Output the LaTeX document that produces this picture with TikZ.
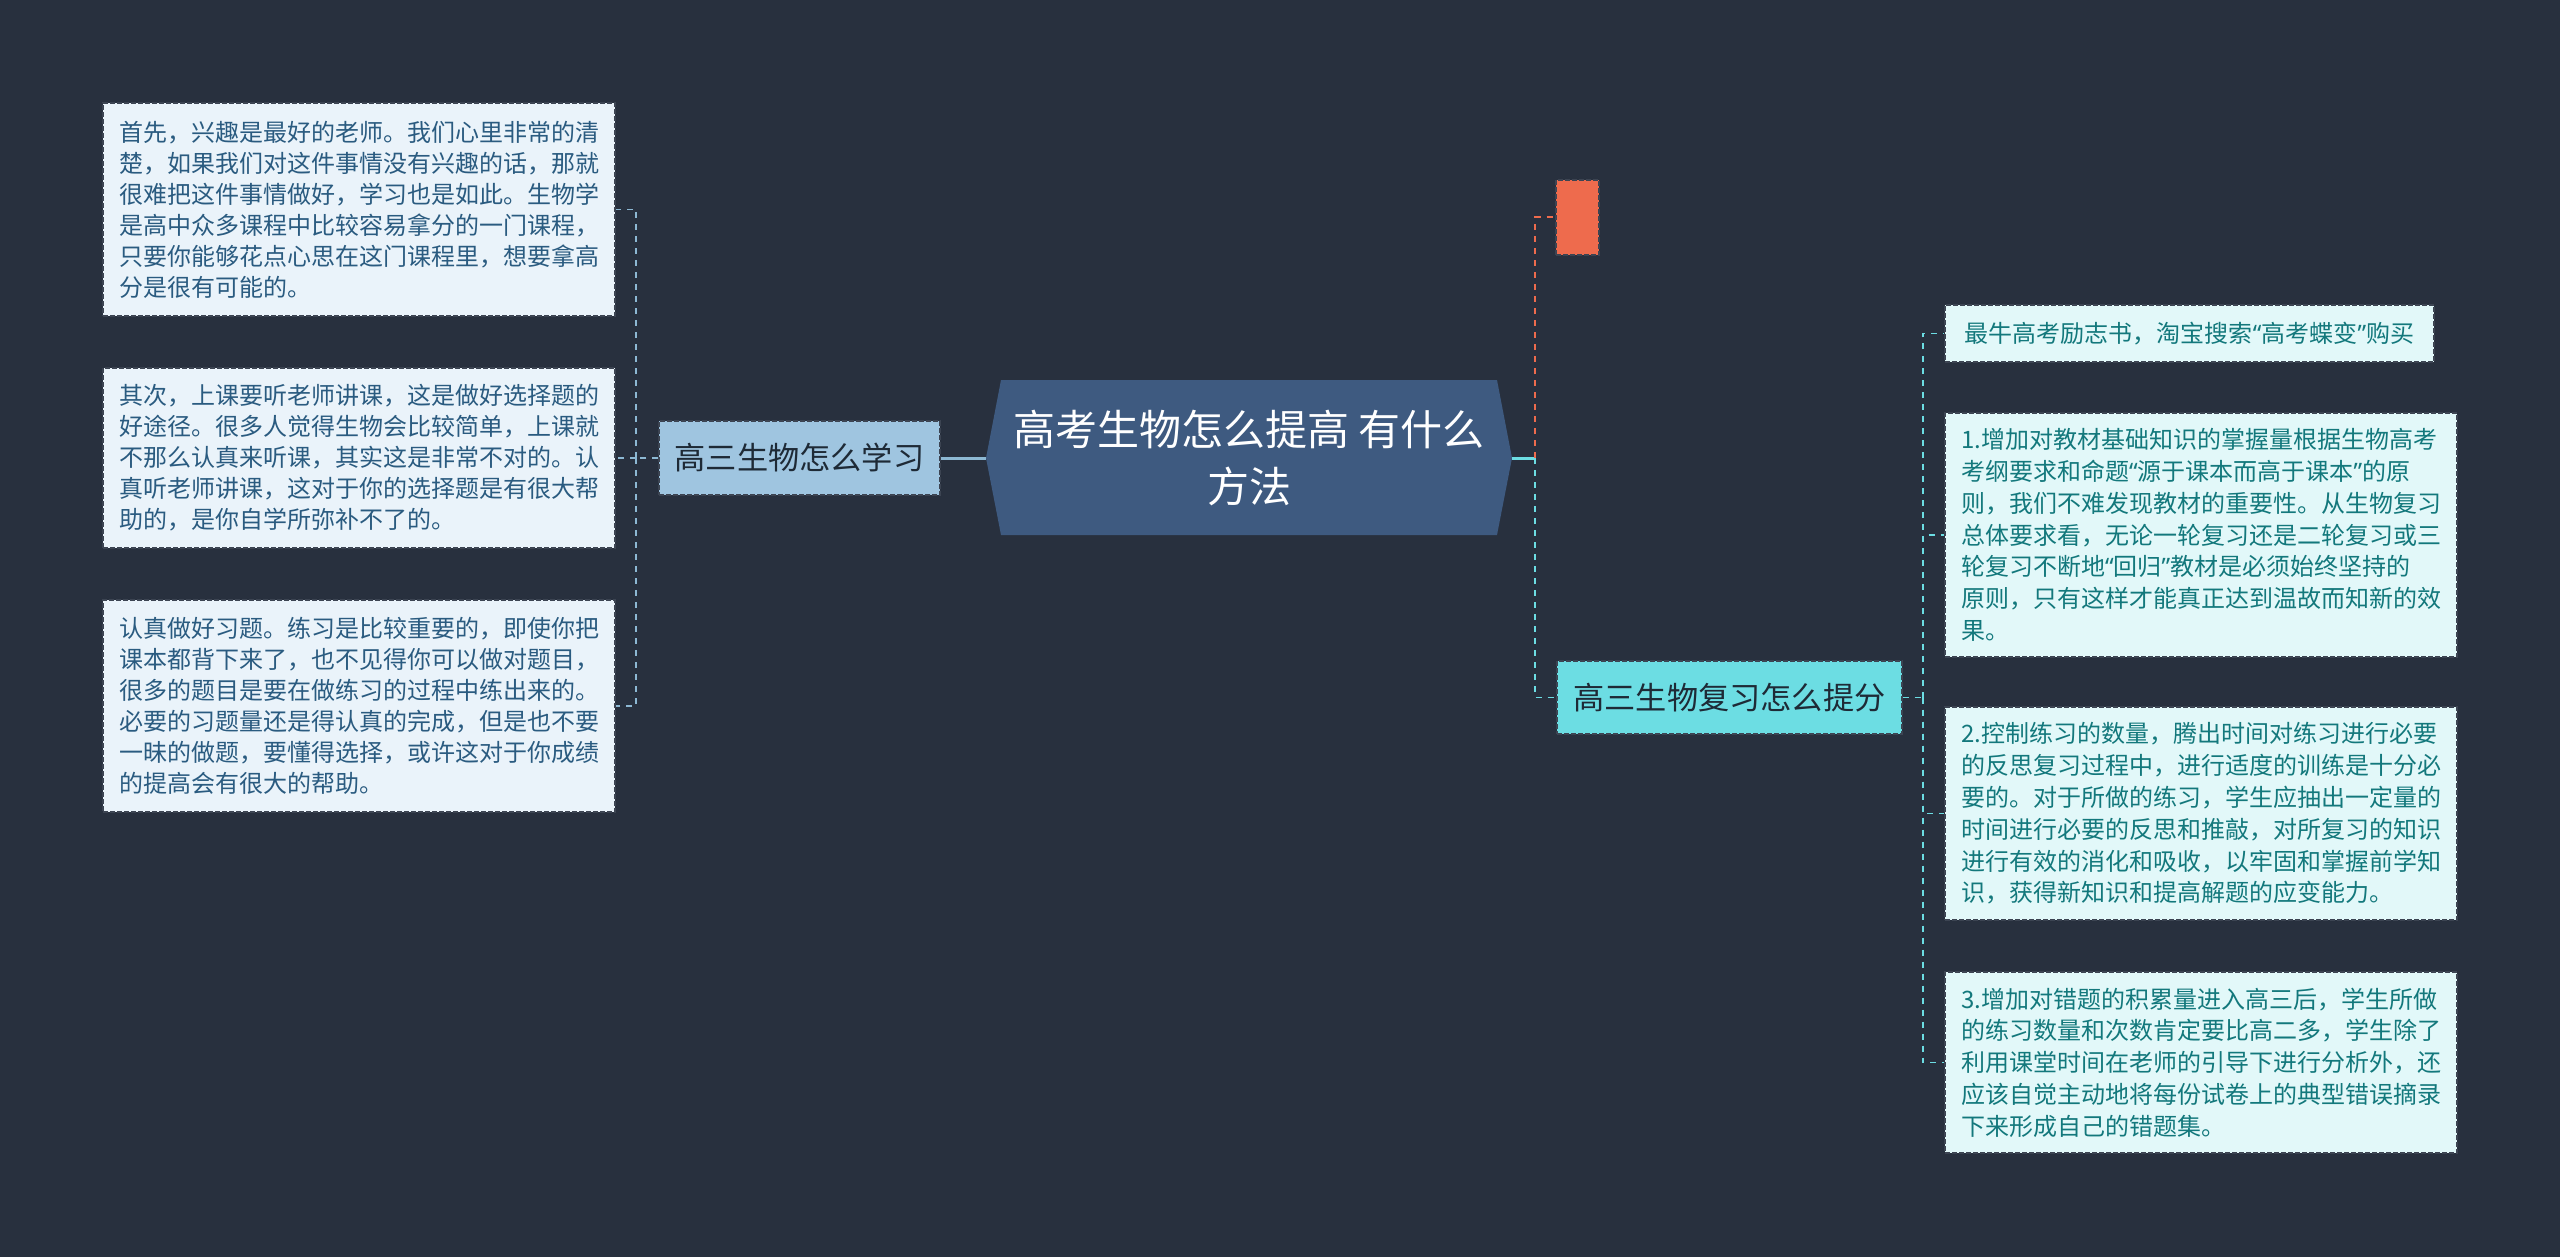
\documentclass[tikz,border=0pt]{standalone}
\usepackage{fontspec}
\setmainfont{Noto Sans CJK SC}
\newfontfamily\latinq{Noto Sans}
\newcommand\myqo{{\latinq “}}
\newcommand\myqc{{\latinq ”}}
\definecolor{bg}{HTML}{28303E}
\definecolor{lfill}{HTML}{EAF3FA}
\definecolor{ltext}{HTML}{2A5B80}
\definecolor{lbfill}{HTML}{9FC5E0}
\definecolor{cfill}{HTML}{3E5A80}
\definecolor{redc}{HTML}{EE6B4D}
\definecolor{cyanc}{HTML}{6CDDE3}
\definecolor{rfill}{HTML}{E2F8F9}
\definecolor{rtext}{HTML}{13787C}
\definecolor{lline}{HTML}{8DB8D3}
\definecolor{bord}{HTML}{3C4452}
\definecolor{darktext}{HTML}{1E2A36}
\tikzset{
  leafl/.style={draw=bord, line width=0.6pt, dash pattern=on 2.5pt off 1pt, fill=lfill, text=ltext,
    inner sep=0pt, align=left, minimum width=256pt, font=\fontsize{12pt}{15.5pt}\selectfont},
  leafr/.style={draw=bord, line width=0.6pt, dash pattern=on 2.5pt off 1pt, fill=rfill, text=rtext,
    inner sep=0pt, align=left, minimum width=256pt, font=\fontsize{12pt}{15.9pt}\selectfont},
  branchbox/.style={draw=bord, line width=0.6pt, dash pattern=on 2.5pt off 1pt, inner sep=0pt,
    text=darktext, font=\fontsize{15.6pt}{18pt}\selectfont},
  lconn/.style={draw=lline, line width=0.8pt, dash pattern=on 3pt off 3pt},
  rconn/.style={draw=cyanc, line width=0.8pt, dash pattern=on 3pt off 3pt},
  redconn/.style={draw=redc, line width=1pt, dash pattern=on 3pt off 3pt},
}
\begin{document}
\begin{tikzpicture}[x=0.5pt,y=-0.5pt]
\fill[bg] (0,0) rectangle (2560,1257);
\useasboundingbox (0,0) rectangle (2560,1257);

% central hexagon
\coordinate (cl) at (986,458);
\coordinate (cr) at (1512,458);
\fill[cfill] (cl) -- (1001,380) -- (1497,380) -- (cr) -- (1497,535) -- (1001,535) -- cycle;
\node[text=white, align=center, font=\fontsize{21pt}{28.5pt}\selectfont] (center) at (1249,458)
  {高考生物怎么提高 有什么\\方法};

% left branch
\node[branchbox, fill=lbfill, minimum width=140.5pt, minimum height=37pt] (lb) at (799.5,458) {高三生物怎么学习};

\node[leafl, minimum height=106.5pt] (b1) at (359,209.5) {首先，兴趣是最好的老师。我们心里非常的清\\楚，如果我们对这件事情没有兴趣的话，那就\\很难把这件事情做好，学习也是如此。生物学\\是高中众多课程中比较容易拿分的一门课程，\\只要你能够花点心思在这门课程里，想要拿高\\分是很有可能的。};
\node[leafl, minimum height=90pt] (b2) at (359,458) {其次，上课要听老师讲课，这是做好选择题的\\好途径。很多人觉得生物会比较简单，上课就\\不那么认真来听课，其实这是非常不对的。认\\真听老师讲课，这对于你的选择题是有很大帮\\助的，是你自学所弥补不了的。};
\node[leafl, minimum height=106pt] (b3) at (359,706) {认真做好习题。练习是比较重要的，即使你把\\课本都背下来了，也不见得你可以做对题目，\\很多的题目是要在做练习的过程中练出来的。\\必要的习题量还是得认真的完成，但是也不要\\一昧的做题，要懂得选择，或许这对于你成绩\\的提高会有很大的帮助。};

\draw[lline, line width=1.5pt] (cl) -- (lb.east);
\coordinate (lt) at (636,458);
\draw[lconn] (lb.west) -- (lt);
\draw[lconn] (lt) |- (b1.east);
\draw[lconn] (lt) -- (b2.east);
\draw[lconn] (lt) |- (b3.east);

% right side
\node[draw=bord, line width=0.6pt, dash pattern=on 2.5pt off 1pt, fill=redc, inner sep=0pt,
  minimum width=21.5pt, minimum height=37.5pt] (red) at (1577.5,217.5) {};
\node[branchbox, fill=cyanc, minimum width=172.5pt, minimum height=36.5pt] (rb) at (1729.5,697.5) {高三生物复习怎么提分};

\coordinate (rt) at (1535,458);
\draw[cyanc, line width=1.5pt] (cr) -- (rt);
\draw[redconn] (rt) |- (red.west);
\draw[rconn] (rt) |- (rb.west);

\node[leafr, minimum width=244.5pt, minimum height=28.5pt] (ra) at (2189.5,333.5) {最牛高考励志书，淘宝搜索\myqo 高考蝶变\myqc 购买};
\node[leafr, minimum height=122pt] (rbb) at (2201,535) {1.增加对教材基础知识的掌握量根据生物高考\\考纲要求和命题\myqo 源于课本而高于课本\myqc 的原\\则，我们不难发现教材的重要性。从生物复习\\总体要求看，无论一轮复习还是二轮复习或三\\轮复习不断地\myqo 回归\myqc 教材是必须始终坚持的\\原则，只有这样才能真正达到温故而知新的效\\果。};
\node[leafr, minimum height=106.5pt] (rc) at (2201,813.5) {2.控制练习的数量，腾出时间对练习进行必要\\的反思复习过程中，进行适度的训练是十分必\\要的。对于所做的练习，学生应抽出一定量的\\时间进行必要的反思和推敲，对所复习的知识\\进行有效的消化和吸收，以牢固和掌握前学知\\识，获得新知识和提高解题的应变能力。};
\node[leafr, minimum height=90.5pt] (rd) at (2201,1062.5) {3.增加对错题的积累量进入高三后，学生所做\\的练习数量和次数肯定要比高二多，学生除了\\利用课堂时间在老师的引导下进行分析外，还\\应该自觉主动地将每份试卷上的典型错误摘录\\下来形成自己的错题集。};

\coordinate (rt2) at (1923,697.5);
\draw[rconn] (rb.east) -- (rt2);
\draw[rconn] (rt2) |- (ra.west);
\draw[rconn] (rt2) |- (rbb.west);
\draw[rconn] (rt2) |- (rc.west);
\draw[rconn] (rt2) |- (rd.west);
\end{tikzpicture}
\end{document}
